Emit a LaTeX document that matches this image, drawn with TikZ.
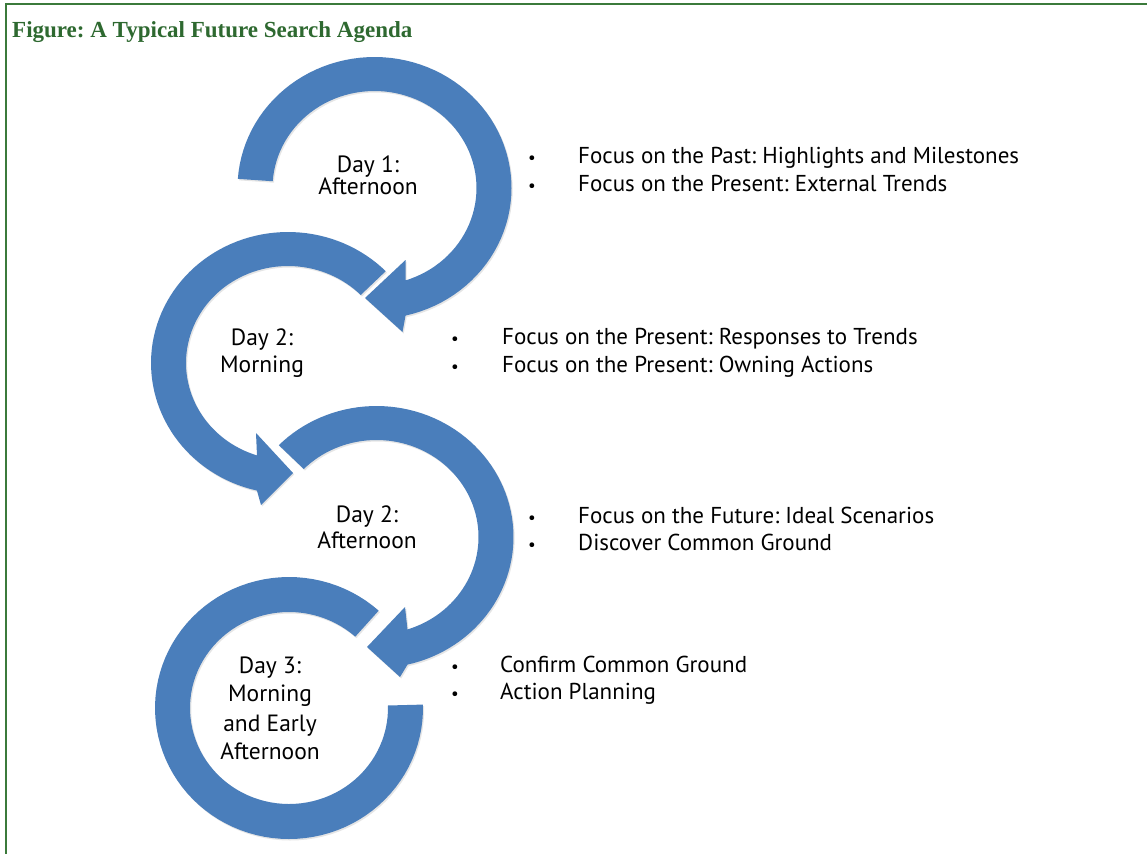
\documentclass[tikz,border=0pt]{standalone}
\usepackage{fontspec}
\setmainfont{PT Sans}
\newfontfamily\titlefont{Liberation Serif}
\usetikzlibrary{shadows}
\definecolor{ringblue}{HTML}{4A7EBB}
\definecolor{framegreen}{HTML}{3B7A3B}
\definecolor{titlegreen}{HTML}{2E6930}
\frenchspacing
\begin{document}
\begin{tikzpicture}[x=1pt,y=-1pt,
  ring/.style={fill=ringblue, drop shadow={shadow xshift=1.2pt,shadow yshift=-1.5pt,opacity=0.2}},
  daylbl/.style={anchor=base, font=\fontsize{23.5}{27}\selectfont, inner sep=0pt},
  item/.style={anchor=base west, font=\fontsize{23}{27}\selectfont, inner sep=0pt},
  bul/.style={anchor=base, font=\fontsize{17}{19}\selectfont, inner sep=0pt},
]
\useasboundingbox (0,0) rectangle (1147,854);
\fill[white] (0,0) rectangle (1147,854);
\coordinate (fTR) at (1147,4);
\coordinate (fTL) at (6,4);
\coordinate (fBL) at (6,854);
\draw[framegreen, line width=2pt] (fTR) -- (fTL) -- (fBL);

\node[anchor=base west, inner sep=0pt, text=titlegreen, font=\titlefont\bfseries\fontsize{23}{27}\selectfont] (title) at (12,37) {Figure: A Typical Future Search Agenda};

% ring 1
\fill[ring] plot[domain=184:436.9,samples=80] ({374.5+137*cos(\x)},{188+131*sin(\x)})
  -- (402.5,332) -- (365,298) -- (405.5,260)
  -- plot[domain=432.3:184,samples=80] ({374.5+102*cos(\x)},{188+97*sin(\x)}) -- cycle;
% ring 2
\fill[ring] plot[domain=315.5:103.1,samples=80] ({288+137*cos(\x)},{363+131*sin(\x)})
  -- (261,505) -- (293,473) -- (256,433)
  -- plot[domain=107.7:315.5,samples=80] ({288+102*cos(\x)},{363+97*sin(\x)}) -- cycle;
% ring 3
\fill[ring] plot[domain=224.5:436.9,samples=80] ({376.5+137*cos(\x)},{537+131*sin(\x)})
  -- (400,677) -- (367,647) -- (405,607)
  -- plot[domain=432.3:224.5,samples=80] ({376.5+102*cos(\x)},{537+97*sin(\x)}) -- cycle;
% ring 4
\fill[ring] plot[domain=312:-1.5,samples=90] ({289+134*cos(\x)},{708+131*sin(\x)})
  -- plot[domain=-1.5:312,samples=90] ({289+99*cos(\x)},{708+96*sin(\x)}) -- cycle;

% day labels
\node[daylbl] (d1a) at (368,172) {Day 1:};
\node[daylbl] (d1b) at (368,194) {Afternoon};
\node[daylbl] (d2a) at (262,345) {Day 2:};
\node[daylbl] (d2b) at (262,372) {Morning};
\node[daylbl] (d3a) at (367,522) {Day 2:};
\node[daylbl] (d3b) at (367,548) {Afternoon};
\node[daylbl] (d4a) at (270,673) {Day 3:};
\node[daylbl] (d4b) at (270,701) {Morning};
\node[daylbl] (d4c) at (270,731) {and Early};
\node[daylbl] (d4d) at (270,759) {Afternoon};

% bullet lists
\node[bul] (b1a) at (532,163) {\textbullet};
\node[item] (t1a) at (578,163) {Focus on the Past: Highlights and Milestones};
\node[bul] (b1b) at (532,191) {\textbullet};
\node[item] (t1b) at (578,191) {Focus on the Present: External Trends};

\node[bul] (b2a) at (455,344) {\textbullet};
\node[item] (t2a) at (502,344) {Focus on the Present: Responses to Trends};
\node[bul] (b2b) at (455,372) {\textbullet};
\node[item] (t2b) at (502,372) {Focus on the Present: Owning Actions};

\node[bul] (b3a) at (532,523) {\textbullet};
\node[item] (t3a) at (578,523) {Focus on the Future: Ideal Scenarios};
\node[bul] (b3b) at (532,550) {\textbullet};
\node[item] (t3b) at (578,550) {Discover Common Ground};

\node[bul] (b4a) at (455,672) {\textbullet};
\node[item] (t4a) at (500,672) {Confirm Common Ground};
\node[bul] (b4b) at (455,699) {\textbullet};
\node[item] (t4b) at (500,699) {Action Planning};
\end{tikzpicture}
\end{document}
